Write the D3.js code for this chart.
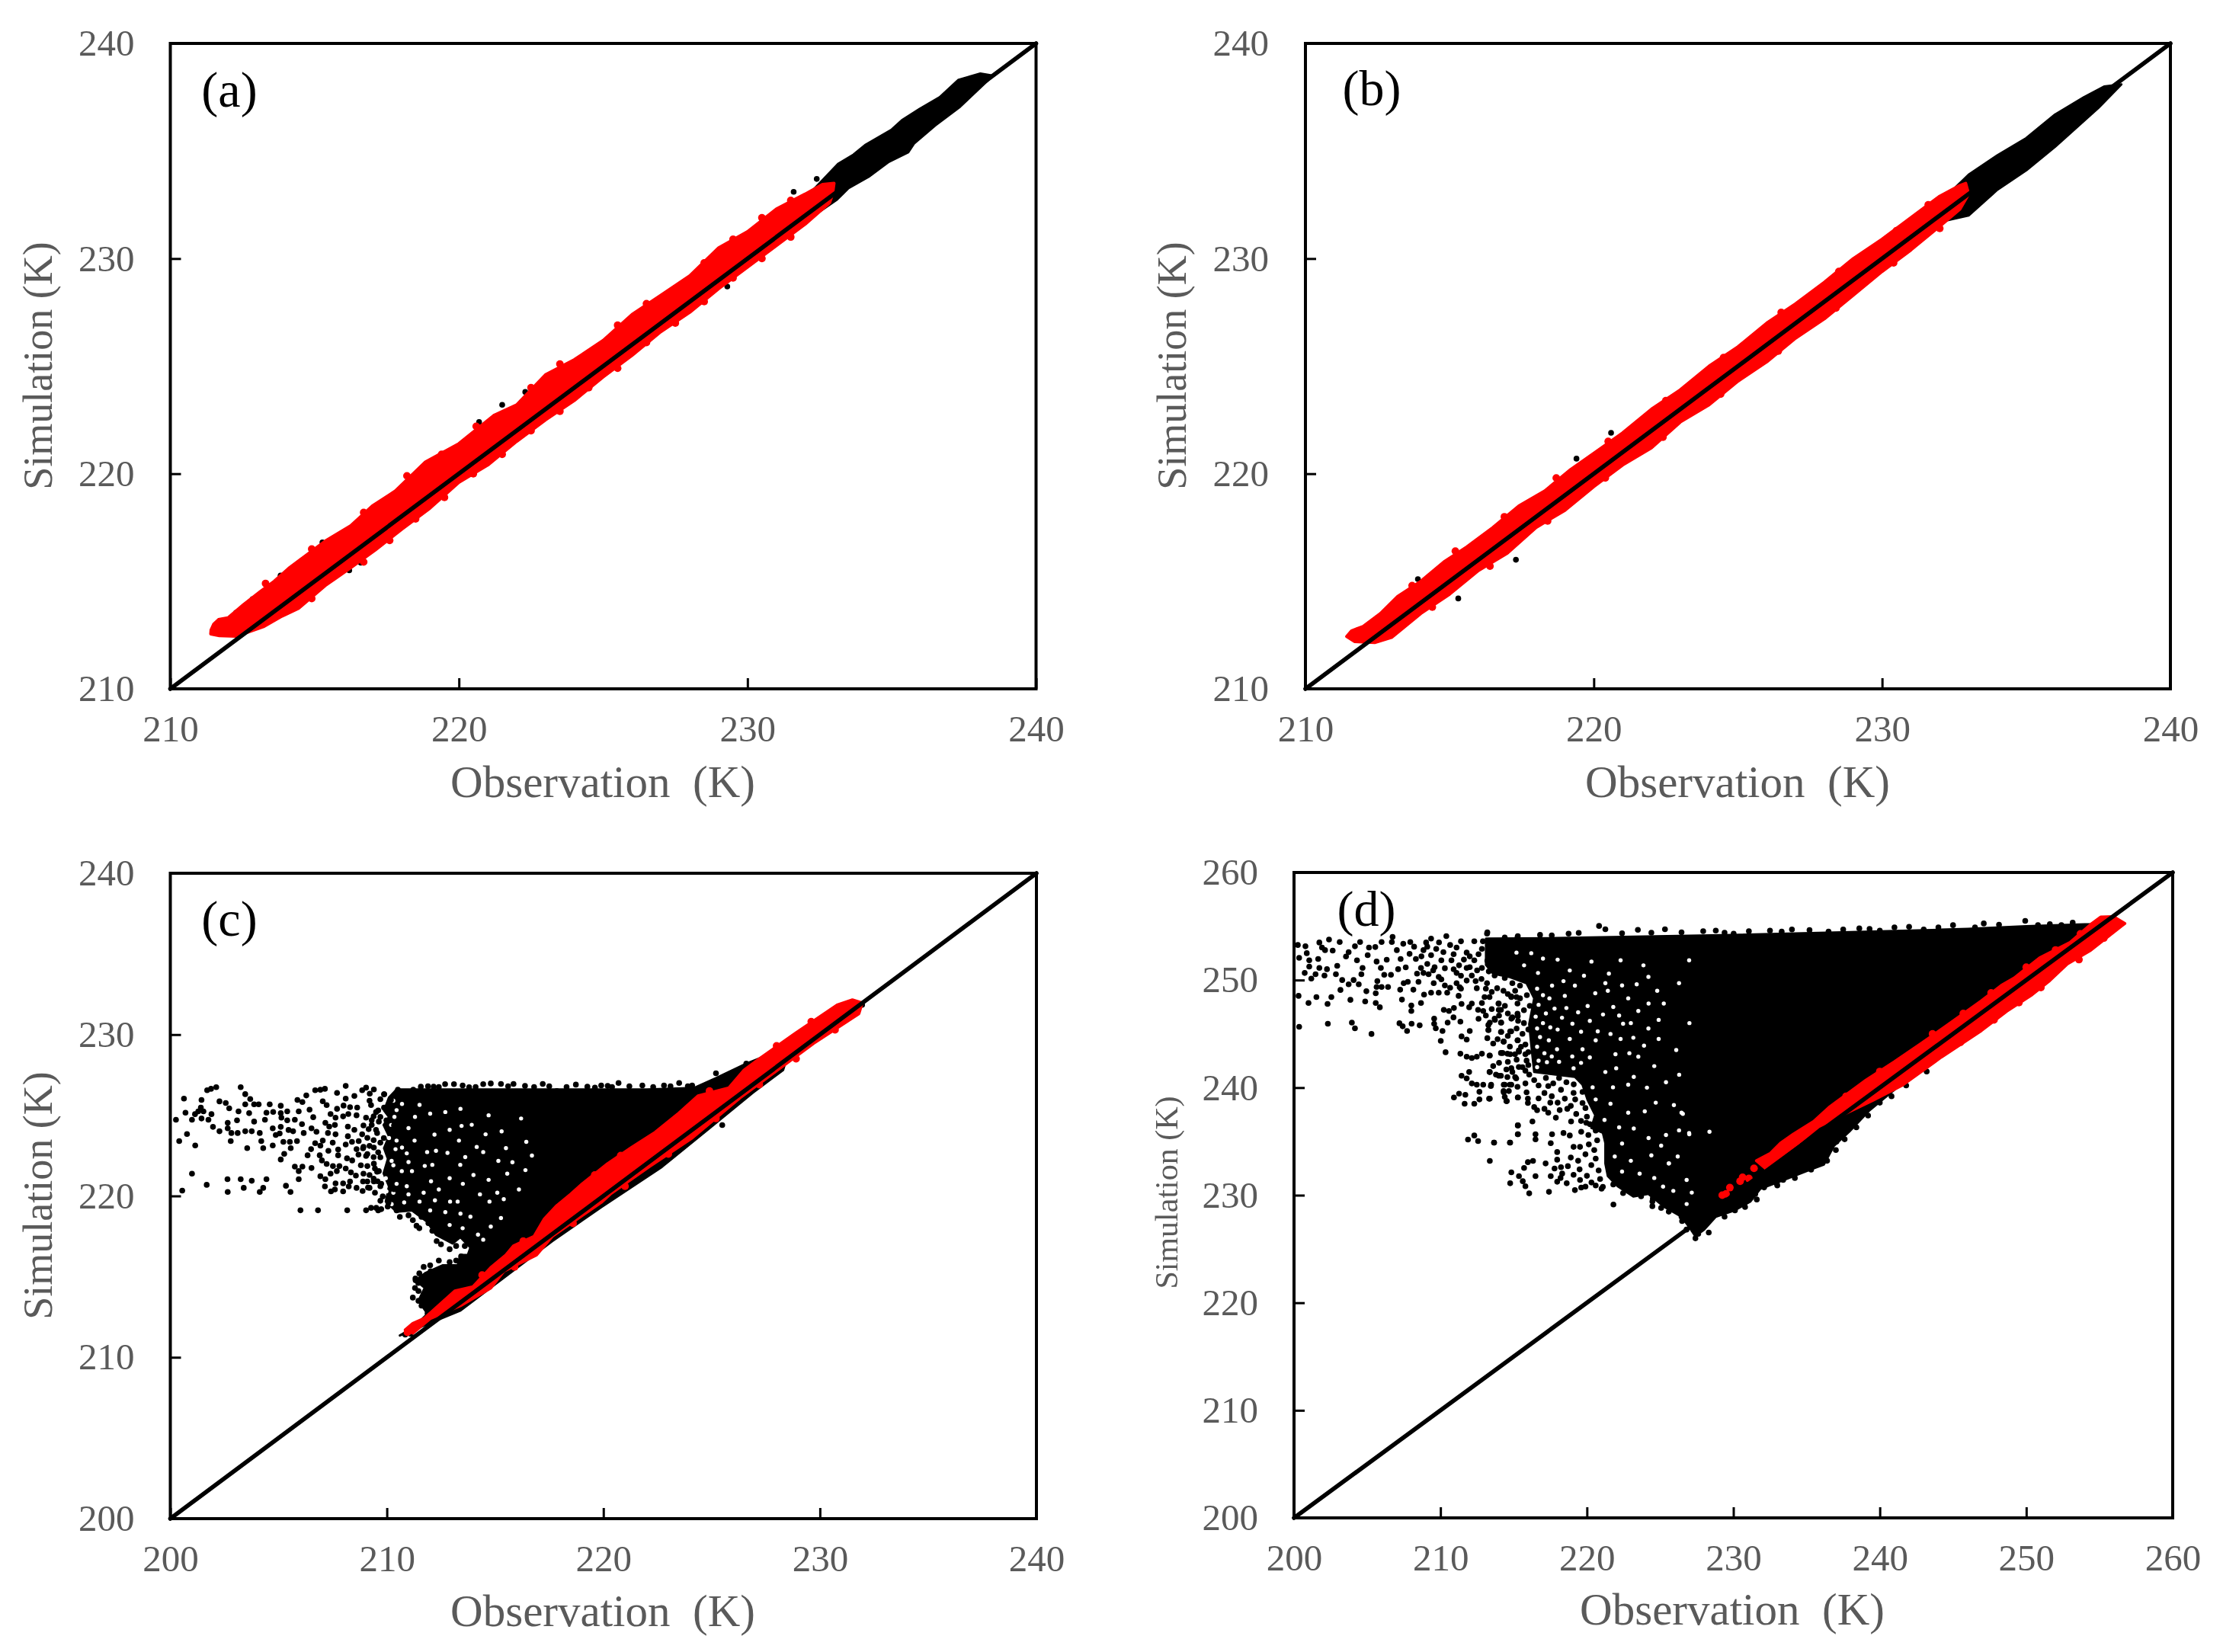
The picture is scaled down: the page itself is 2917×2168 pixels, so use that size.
<!DOCTYPE html>
<html><head><meta charset="utf-8">
<script src="https://cdn.jsdelivr.net/npm/d3@7/dist/d3.min.js"></script>
<style>html,body{margin:0;background:#fff}svg{display:block;filter:blur(0.7px)}</style>
</head><body><svg id="c" width="2917" height="2168"></svg>
<script>
const ticksAB=[210,220,230,240];
const ticksCX=[200,210,220,230,240];
const ticksCY=[200,210,220,230,240];
const ticksD=[200,210,220,230,240,250,260];
const xTitle="Observation  (K)", yTitle="Simulation (K)";
const labels=["(a)","(b)","(c)","(d)"];

const blackRingA=[[212.6,213.4],[214,215.1],[216,217],[218,219],[220,220.9],[222,222.8],[224,224.9],[226,226.8],[228,228.8],[230,230.8],[232,232.8],[233.14,234.4],[233.67,234.83],[234.1,235.3],[235,236],[235.35,236.43],[235.97,236.96],[236.66,237.5],[237.3,238.3],[238.07,238.6],[238.5,238.5],[237.37,237.06],[236.5,236.18],[235.78,235.36],[235.57,234.94],[234.9,234.5],[234.2,233.8],[233.5,233.27],[233.1,232.74],[231,230.8],[229,228.9],[226,225.8],[223,222.8],[220,219.9],[217.5,217.2],[215,214.9],[213,212.9]];
const redRingA=[[211.41,212.73],[211.5,213.0],[211.67,213.22],[212,213.3],[212.55,213.93],[213.1,214.5],[213.6,215],[214.1,215.6],[214.48,215.98],[215.37,216.87],[216.25,217.58],[217,218.5],[217.8,219.2],[218.84,220.55],[220,221.4],[221.2,222.7],[222,223.2],[223,224.6],[224,225.3],[225,226.2],[226,227.4],[227,228.3],[228,229.2],[229,230.5],[230,231.25],[231,232.3],[232,233],[232.6,233.45],[233,233.5],[232.95,233.0],[232.85,232.6],[232,231.6],[231,230.6],[230,229.6],[229,228.6],[228,227.5],[227,226.6],[226,225.5],[225,224.5],[224,223.4],[223,222.5],[222,221.5],[221,220.4],[220,219.6],[219,218.4],[218,217.4],[217.1,216.45],[216.25,215.63],[215.37,214.8],[214.44,213.74],[213.87,213.38],[213.25,212.9],[212.28,212.44],[211.7,212.47],[211.4,212.55]];
const redDotsA=[[213.3,214.9],[214.9,216.5],[216.7,218.2],[218.2,219.9],[219.4,220.9],[220.6,222.2],[222.5,224],[223.5,225.1],[225.5,226.9],[226.5,227.9],[228.5,229.8],[229.5,230.9],[230.5,231.9],[231.5,232.7],[214.9,214.2],[216.7,215.9],[217.6,216.9],[218.5,217.9],[219.5,218.9],[220.5,220],[221.5,220.9],[222.5,222],[223.5,222.9],[224.5,224],[225.5,224.9],[226.5,226.1],[227.5,227],[228.5,228],[229.5,229.1],[230.5,230],[231.5,231]];
const dotsA=[[212.28,213.54],[212.85,214.17],[213.38,214.8],[213.82,215.27],[215.27,216.81],[216.2,215.51],[216.6,215.86],[220.7,222.4],[221.5,223.2],[222.3,223.8],[231.6,233.1],[232.4,233.7],[229.3,228.7]];

const blackRingB=[[212.6,213],[214,214.7],[216,216.8],[218,218.8],[220,220.7],[222,222.7],[224,224.7],[226,226.7],[228,228.6],[230,230.6],[232,232.6],[233,233.9],[234,234.8],[235,235.6],[236,236.7],[237,237.5],[237.7,238],[238.3,238.1],[237.5,237],[237,236.4],[236,235.2],[235,234.1],[234,233.2],[233,232],[232,231.7],[230,229.6],[228,227.4],[226,225.4],[224,223.4],[222,221.4],[220,219.6],[218,217.7],[216,215.7],[214,213.7],[212.8,212.5]];
const redRingB=[[211.43,212.43],[211.6,212.7],[212,212.9],[212.6,213.5],[213.2,214.3],[214,215],[214.8,215.9],[215.6,216.6],[216.5,217.5],[217.4,218.5],[218.3,219.2],[219.2,220.2],[220,220.95],[221,221.9],[222,223],[223,223.9],[224,225],[225,225.9],[226,227],[227,227.9],[228,228.9],[229,230],[230,230.9],[231,231.9],[232,232.9],[232.7,233.4],[232.9,233.5],[233,233],[232.7,232.3],[232,231.5],[231,230.4],[230,229.4],[229,228.3],[228,227.2],[227,226.3],[226,225.2],[225,224.3],[224,223.2],[223,222.4],[222,221.2],[221,220.4],[220,219.4],[219,218.3],[218,217.5],[217,216.3],[216,215.5],[215,214.4],[214,213.5],[213,212.4],[212.4,212.15],[211.7,212.2]];
const redDotsB=[[213.7,214.8],[215.2,216.4],[216.9,218],[218.7,219.8],[220.5,221.5],[222.5,223.4],[224.5,225.4],[226.5,227.5],[228.5,229.4],[230.5,231.3],[231.6,232.5],[214.4,213.8],[216.4,215.7],[218.4,217.8],[220.4,219.8],[222.4,221.7],[224.4,223.7],[226.4,225.7],[228.4,227.7],[230.4,229.8],[232,231.4]];
const dotsB=[[212.5,213.3],[213.9,215.1],[219.4,220.7],[220.6,221.9],[217.3,216.0],[215.3,214.2]];

const blackRingC=[[210.45,226.6],[218,226.6],[222,226.6],[224.2,226.7],[225.2,227.3],[226.6,228.2],[227.9,228.9],[228.6,229.1],[228.3,227.8],[226.9,226.4],[224.9,224.2],[222.7,221.8],[219.9,219.3],[217.64,217.2],[213.4,212.9],[210.6,211.35],[211.2,211.8],[211.88,212.7],[211.46,213.5],[211.75,214.3],[211.33,214.77],[211.8,215.24],[212.57,215.7],[213.27,215.7],[213.39,216.34],[213.74,216.34],[213.86,216.8],[213.39,217.45],[213.04,217.05],[212.27,217.6],[211.86,218.4],[211.16,219.1],[210.45,219.02],[209.95,219.65],[210.1,220.6],[209.85,221.4],[210.05,222.3],[209.87,222.96],[210.1,223.7],[209.85,224.4],[210.1,224.9],[209.87,225.3],[210.1,226.1]];
const gapsC=[[210.45,223.43],[211.28,223.43],[213.33,223.43],[214.56,223.82],[213.45,224.34],[213.92,224.41],[212.80,222.67],[212.27,222.80],[211.86,222.72],[213.62,222.41],[214.15,223.04],[214.45,222.72],[213.39,221.93],[212.10,221.93],[211.75,221.86],[210.22,222.17],[210.92,222.64],[210.45,220.75],[212.04,220.91],[211.16,221.54],[213.27,219.65],[212.92,219.65],[212.22,219.73],[213.51,220.75],[214.21,217.60],[214.45,217.29],[213.86,218.71],[215.27,218.63],[214.74,219.65],[215.56,221.38],[216.44,223.35],[215.50,222.96],[215.15,222.17],[215.80,222.09],[210.22,219.49],[209.87,219.34],[211.51,219.65],[210.45,225.32],[211.51,225.64],[210.10,223.59],[210.92,220.60],[209.98,220.28],[210.69,221.54],[210.2,224.4],[211,224.2],[209.95,221.1],[210.4,222.9],[211.7,220.2],
[210.3,225.9],[210.7,225.7],[210.35,224.9],[211.3,224.9],[212,225.1],[212.7,225.2],[213.4,225.4],[210.3,221.9],[211,222.1],[210.7,223],[212.2,223.8],[212.9,224.1],[210.3,220.2],[211,220.1],[212.4,220.4],[212.9,221.1],[214,221.3],[214.7,221],[214.3,220.1],[215.1,220.2],[213.4,218.9],[212.9,218.2],[213.5,218],[212.7,219],[214.8,218.1],[215.4,219.8],[216.1,220.4],[216.4,221.6],[216.7,222.5],[215.3,224],[216.2,224.8],[214.7,225],[210.8,219.6],[212,219.1]];
const dotsC=[[201.70,226.55],[201.88,226.64],[202.12,226.74],[203.25,226.74],[203.46,226.31],[203.69,226.01],[200.63,226.03],[201.44,225.95],[202.27,225.86],[202.56,225.76],[202.72,225.43],[203.46,225.68],[203.87,225.68],[204.08,225.68],[204.59,225.68],[205.10,225.59],[201.41,225.48],[201.29,225.24],[201.53,225.24],[200.70,225.16],[201.14,225.07],[201.90,225.07],[203.15,225.24],[203.64,225.13],[204.44,225.16],[204.75,225.21],[205.10,225.13],[205.40,225.24],[205.93,225.24],[206.43,225.35],[200.26,224.72],[201.00,224.72],[201.44,224.80],[201.76,224.72],[203.08,224.69],[202.65,224.53],[203.87,224.61],[204.37,224.72],[205.13,224.85],[205.40,224.69],[205.75,224.72],[206.08,224.45],[206.60,224.88],[201.97,224.28],[202.65,224.19],[202.27,224.01],[202.82,223.90],[203.11,223.90],[203.46,224.01],[203.76,224.01],[204.13,223.90],[204.73,224.19],[205.10,224.28],[205.46,224.09],[205.67,224.01],[206.16,223.90],[206.52,224.19],[206.75,223.98],[200.77,223.84],[204.87,223.78],[205.05,223.87],[200.41,223.40],[202.79,223.40],[204.20,223.40],[201.15,223.13],[204.73,223.13],[205.22,223.35],[205.52,223.35],[205.85,223.40],[203.55,222.96],[204.29,222.96],[205.56,222.96],[205.26,222.61],[205.10,222.26],[206.34,222.52],[206.90,222.52],[201.00,221.38],[202.64,221.04],[203.25,221.04],[203.76,220.94],[204.44,221.04],[201.68,220.69],[200.55,220.33],[202.65,220.25],[203.39,220.50],[204.13,220.25],[204.29,220.50],[205.34,220.63],[205.55,220.25],[205.93,221.04],[205.75,221.82],[206.10,221.82],[205.93,221.54],[206.52,221.73],[206.01,219.11],[206.82,219.11],[208.17,219.11],[209.04,219.11],[209.27,219.26],[209.51,219.26],[209.74,219.18],[210.04,219.34],[210.45,219.10],[210.07,219.57],[210.45,219.81],[209.81,219.97],[210.33,220.41],[208.88,220.31],[209.13,220.52],[207.98,220.28],[207.42,220.28],[207.14,220.59],[207.63,220.78],[207.98,220.78],[208.24,220.59],[206.93,221.22],[207.16,221.04],[207.40,221.38],[207.69,221.54],[207.22,221.98],[207.51,221.85],[207.81,221.85],[208.10,221.70],[208.34,221.46],[208.57,221.26],[208.92,221.38],[209.10,221.85],[208.69,222.56],[209.04,222.48],[209.39,222.41],[207.75,222.88],[208.10,223.19],[208.39,223.35],[208.92,223.04],[209.39,223.46],[209.86,223.59],[207.75,222.52],[208.16,222.33],[209.63,221.54],[209.57,220.91],[209.39,221.07],[209.74,220.75],[207.04,223.43],[206.69,223.27],[206.93,223.12],[207.28,223.90],[207.63,223.82],[207.34,224.30],[207.16,224.53],[207.98,224.93],[207.63,224.85],[207.40,225.08],[208.22,225.08],[208.63,225.48],[209.27,225.63],[208.10,226.03],[207.70,226.39],[208.10,226.82],[209.04,226.71],[208.86,226.55],[209.21,226.34],[209.88,226.30],[210.45,226.42],[210.19,225.95],[207.04,225.87],[207.22,225.63],[206.69,226.55],[206.93,226.58],[207.14,226.64],[206.28,226.23],[205.87,225.95],[206.10,225.82],[210.21,225.48],[210.33,224.37],[209.98,224.69],[209.39,224.93],[209.04,224.85],[209.63,224.61],[208.92,224.37],[208.86,223.82],[209.16,224.14],[209.5,225.2],[208.6,225],[209.3,224.4],[209.55,223.9],[209.2,223.1],[209.6,222.7],[209.4,222],[209.55,221.5],[208.8,221.9],[209.2,221.3],[208.4,222.2],[208.9,222.95],[209.1,220.9],[209.45,220.2],[209.7,219.7]];
const dotsC2=[[210.51,226.58],[211.22,226.58],[211.57,226.77],[212.16,226.77],[212.69,226.93],[213.10,226.93],[213.80,226.74],[214.45,226.93],[214.80,226.97],[215.27,226.94],[215.85,226.94],[216.38,226.82],[217.20,226.94],[217.85,226.50],[218.73,226.90],[219.26,226.77],[219.61,226.71],[220.20,226.82],[220.7,227],[221.8,226.85],[222.8,226.85],[223.5,227],[224.1,226.85],[225.2,227.6],[226.6,228.2],[209.87,226.30],[210.16,225.95],[209.87,225.48],[210.10,225.48],[211.37,218.15],[211.92,218.31],[212.10,217.84],[211.33,214.77],[211.45,214.61],[211.32,214.88],[211.46,214.11],[211.46,213.5],[212.02,215.34],[211.88,212.73],[213.43,216.26],[210.85,211.41],[211.1,211.45],[225.49,224.39],[222.4,221.78],[216.8,216.56],[231.95,231.84],
[209.4,226.6],[209.7,226],[209.2,225.9],[209.6,225.3],[209.3,224.7],[209.7,224.9],[209.5,224.1],[209.1,223.6],[209.7,223.3],[209.4,223],[209.7,222.4],[209.1,222.6],[209.45,221.7],[209.2,220.5],[209.7,220.6],[209.4,220.9],[209.6,219.1],[210.6,218.7],[211,218.8],[211.2,218.5],[211.6,218.7],[211.5,218],[212.3,217.2],[212.5,217],[212.9,216.7],[213.2,216.9],[213.6,216.9],[213.9,216.2],[213.2,216],[212.9,215.9],[212.4,216],[212,215.7],[211.7,215.6],[212.1,215],[211.5,215.2],[211.3,214.3],[211.2,213.7],[211.7,213.9],[211.6,213.2],[208.5,226.2],[208.3,225.5],[208,225.6],[207.7,225.4],[207.6,224.4],[208.2,224.3],[208.5,224.1],[208.2,223.7],[207.5,223.3],[208.7,223.4],[207.3,222.8],[208.6,222.9],[206.5,222.9],[207,222.2],[208.9,220.9],[208.6,220.5],[207.6,220.4],[208.3,220.9],
[211.9,226.8],[212.4,226.75],[213.5,226.85],[214.1,226.75],[215.6,226.8],[216.8,226.75],[217.5,226.8],[218.3,226.75],[219.9,226.85],[220.4,226.75],[221.2,226.8],[222.3,226.75],[223.1,226.8],[223.9,226.8]];
const redRingC=[[210.85,211.7],[211.2,212.1],[211.74,212.42],[213.14,214.11],[213.98,214.37],[214.8,215.56],[215.5,216.34],[215.85,216.9],[216.8,217.5],[217.26,218.55],[217.85,219.4],[218.5,220.12],[219.03,220.75],[220.2,222],[221.3,223],[222.4,223.95],[223.5,225.15],[224.37,226.2],[225.8,226.7],[226.5,227.8],[227.2,228.5],[228.85,230.06],[230.8,231.84],[231.5,232.15],[231.95,231.96],[231.8,231.3],[229.7,229.45],[228,227.76],[226.3,226.07],[224.1,223.6],[222.1,221.8],[220.32,220.12],[219.9,219.6],[217.64,217.5],[216.91,216.34],[215.4,215.34],[214.8,214.3],[213.4,213.2],[212,212.4],[211.2,211.5]];
const redDotsC=[[210.95,211.55],[214.4,215.1],[216.3,217.2],[219.6,221.3],[220.8,222.5],[224.9,226.5],[228,229.3],[229.6,230.8],[215.9,215.6],[218.6,218.3],[221,220.6],[223,222.6],[225.2,224.8],[227.2,226.9],[228.9,228.5],[230.7,230.3]];

const blackRingD=[[213.11,253.85],[218,253.9],[224,254.05],[230,254.2],[238,254.45],[246,254.75],[250,255],[254.39,255.2],[255.08,255.5],[256,255.3],[256,254.8],[254.4,253],[252.8,251.7],[251.6,250.2],[250.4,248.9],[248.66,247.4],[246.93,245.6],[244.2,243.1],[241,239.8],[239.3,237.9],[237.91,235.9],[236.87,234.6],[236.18,232.84],[235.3,232.4],[233.4,231.4],[231.84,230.6],[231.15,229.4],[230.1,228.6],[228.8,228],[228,226.8],[227.4,226.2],[226.98,227.05],[226.46,228],[225.25,228.94],[224.2,230.12],[223.17,229.88],[222.1,230.83],[221.43,231.77],[221.26,232.95],[221.26,234.84],[221.09,235.8],[220.3,236.26],[220.57,237.44],[220.05,238.85],[219.7,240.27],[219.18,241],[216.4,241.45],[216.23,243.6],[216.06,245.9],[216.4,248.3],[215.88,249.7],[214.67,250.3],[213.6,250.6],[213.11,251.4]];
const gapsD=[[218.83,250.89],[217.62,249.48],[219.01,245.94],[220.74,245.23],[221.61,244.99],[219.09,241.80],[223.17,244.64],[221.95,243.10],[222.30,244.52],[220.05,247.59],[217.79,247.35],[217.44,248.30],[218.49,248.53],[215.71,251.37],[216.66,250.66],[215.19,252.55],[220.57,248.77],[222.82,248.30],[223.51,247.12],[224.21,247.82],[222.30,251.84],[220.31,251.72],[224.90,244.52],[221.61,238.50],[222.82,237.67],[223.95,237.79],[226.46,237.67],[225.94,238.38],[222.82,240.27],[221.26,241.45],[220.39,240.03],[225.59,232.95],[224.21,235.31],[225.07,234.60],[226.98,251.84],[225.25,247.82],[226.29,249.71],[223.86,251.37],[228.37,235.90],[226.98,235.78],[219.18,249.48],[221.26,249.71],[222.47,245.94],[217.96,243.57],[218.83,244.52],[217.27,242.37],[219.70,243.57],[223.51,242.87],[221.78,240.03],[221.43,249.0],[225.60,232.96],[226.55,237.56],[226.99,235.67],[226.29,236.03],[226.81,229.18],[227.16,230.24],[226.81,231.42],
[216.6,249.2],[217,248.6],[216.7,247.7],[217.2,246.9],[216.5,246.6],[217,246],[216.6,245.5],[217.5,245.6],[216.8,244.7],[217.4,244.4],[216.6,243.8],[217.1,243.2],[216.7,242.5],[217.6,242.9],[218.1,242.4],[216.6,241.9],[218,245.4],[218.3,246.5],[218.6,247.4],[219.4,247],[219.6,245.2],[219,242.9],[219.6,242.3],[220.2,242.8],[220.6,244.4],[220.2,246.2],[221.1,246.8],[221.8,247.5],[222.2,246.7],[223,246],[221.5,250.6],[219.8,250.4],[218,251.9],[217,252],[216.2,252.5],[218.4,249.9],[222.4,249.5],[223.4,249.6],[224.2,250.3],[224.8,249],[224.9,246.3],[224.2,245.5],[223.9,243.9],[222.9,243.2],[224.6,242],[223.2,241],[222,241.8],[220.6,238.9],[221.2,237],[222.2,236.3],[223.2,236.2],[222.4,234.8],[221.9,233.6],[223,233.2],[223.6,232],[222.4,232.2],[224.4,233.7],[224.6,231.6],[225.2,230.8],[225.9,230.4],[226.2,233.6],[225.4,235.6],[224.7,238.6],[224.1,240],[225.4,240.5],[226.3,241.2],[226.1,243.5],[227,246]];
const dotsD=[[202.39,253.77],[203.12,253.54],[201.73,253.49],[201.91,253.02],[202.12,252.78],[202.64,252.74],[200.26,253.26],[200.78,253.14],[200.87,252.50],[200.35,252.07],[201.04,251.84],[201.65,251.96],[203.73,252.59],[204.16,253.14],[204.51,253.54],[203.55,252.19],[204.30,251.84],[205.12,253.02],[205.55,253.07],[205.98,253.54],[205.03,252.31],[205.64,251.72],[206.33,251.89],[205.93,251.13],[206.73,254.01],[206.68,253.54],[207.46,253.37],[207.94,253.54],[207.02,252.78],[207.89,252.43],[207.28,251.96],[208.32,251.96],[207.11,251.01],[207.63,251.18],[201.04,251.25],[201.73,251.13],[202.25,251.01],[202.95,251.32],[200.73,250.66],[201.47,250.54],[202.08,250.42],[202.86,250.54],[201.18,250.14],[203.29,250.00],[204.07,250.00],[203.73,249.60],[204.42,249.60],[204.68,251.13],[204.60,250.54],[206.16,250.49],[206.62,250.49],[205.69,249.90],[205.64,249.36],[205.98,249.36],[206.42,249.36],[203.17,249.08],[204.94,248.96],[205.58,248.77],[200.31,248.53],[201.53,248.42],[202.55,248.42],[200.99,247.87],[202.29,247.78],[203.85,248.16],[204.86,248.01],[205.58,247.87],[205.86,247.47],[207.37,248.18],[207.25,249.10],[208.15,249.10],[207.77,249.83],[207.49,249.71],[208.50,249.83],[208.01,247.64],[208.01,247.12],[208.67,247.87],[208.88,248.65],[209.36,248.82],[209.88,248.82],[210.46,248.82],[210.66,249.29],[211.31,249.34],[211.24,248.53],[211.44,247.78],[210.23,247.23],[210.58,247.12],[210.92,247.40],[212.14,247.82],[211.96,247.47],[212.57,247.23],[212.92,247.12],[212.83,247.87],[213.01,248.42],[213.35,248.42],[213.96,247.82],[214.13,247.23],[214.83,248.49],[215.26,247.82],[215.43,248.30],[200.35,245.65],[202.31,245.94],[203.95,246.05],[204.16,245.51],[205.29,244.99],[207.20,245.98],[207.42,245.70],[207.72,245.27],[208.03,245.94],[208.58,245.79],[209.57,246.41],[209.57,245.94],[209.68,245.51],[210.14,245.27],[210.49,246.05],[210.89,246.53],[211.36,246.13],[212.00,245.27],[211.44,244.76],[211.79,244.47],[210.02,244.35],[210.35,243.29],[211.36,243.15],[211.79,242.87],[212.14,242.75],[212.48,242.87],[212.83,243.15],[213.35,242.98],[214.13,243.22],[214.57,243.15],[215.09,243.10],[215.35,243.46],[214.31,244.28],[214.74,243.81],[215.26,244.40],[213.27,245.82],[213.27,245.35],[213.70,246.41],[214.13,246.05],[214.91,246.53],[215.26,246.88],[214.13,245.18],[214.83,245.23],[211.44,241.10],[211.96,241.45],[211.79,240.86],[212.14,240.39],[212.48,240.27],[212.92,240.27],[213.44,240.15],[213.35,241.45],[213.79,241.21],[214.13,241.10],[214.57,240.98],[214.91,241.45],[215.35,241.92],[215.17,240.86],[212.66,239.61],[214.39,240.27],[214.74,240.27],[214.31,239.68],[215.26,240.08],[210.92,239.09],[211.27,239.44],[211.70,239.33],[211.65,238.50],[212.31,238.50],[212.66,238.90],[213.32,238.97],[214.53,238.74],[214.39,239.14],[215.29,239.09],[215.29,236.49],[215.29,235.67],[212.31,235.55],[211.88,235.17],[212.57,235.03],[213.66,234.89],[214.74,234.89],
[209.02,253.49],[209.36,253.85],[209.71,252.90],[210.40,254.08],[208.84,252.78],[209.36,252.31],[210.06,251.84],[210.66,253.26],[211.10,253.02],[210.75,251.84],[211.27,251.37],[211.79,252.55],[212.31,253.61],[212.83,252.90],[212.31,251.84],[211.79,251.13],[211.10,250.66],[212.14,250.42],[213.18,254.32],[213.87,253.49],[214.39,253.96],[215.26,253.96],[213.35,252.31],[213.87,252.78],[214.57,253.02],[213.70,251.37],[214.39,251.37],[215.09,252.07],[213.70,250.42],[214.39,250.19],[215.26,250.42],[212.83,251.13],[211.79,249.95],[212.48,249.24],[213.18,249.71],[213.87,249.24],[214.91,249.71],[215.43,249.48],[208.67,251.13],[209.19,250.54],[209.88,250.30],[209.54,249.71],[210.06,250.07],[208.84,250.66],[211.10,249.71]];
const dotsD2=[[213.98,247.82],[213.98,247.23],[215.19,248.42],[214.84,248.42],[215.28,246.64],[214.84,246.41],[213.72,246.29],[213.37,246.05],[214.15,246.05],[213.28,245.35],[214.15,245.18],[214.76,245.23],[216.40,245.11],[214.32,244.28],[215.28,244.40],[216.40,244.28],[213.37,242.98],[214.24,243.22],[214.76,243.10],[215.36,243.34],[215.80,243.10],[215.88,242.51],[214.84,241.80],[214.50,241.69],[213.37,241.45],[213.98,241.10],[216.06,241.21],[215.80,241.57],[215.10,240.98],[213.46,240.27],[214.32,240.27],[214.84,240.27],[215.80,240.39],[214.32,239.56],[214.67,239.68],[215.28,239.09],[215.88,239.56],[215.97,238.97],[213.37,238.97],[214.50,238.74],[215.97,238.57],[216.40,238.19],[217.10,238.03],[217.36,237.67],[217.88,237.20],[216.28,236.85],[215.28,236.49],[215.28,235.67],[216.49,235.67],[216.49,235.19],[217.62,235.67],[217.53,234.84],[213.66,234.89],[214.76,234.89],[217.36,240.15],[218.23,239.80],[219.09,239.51],[218.49,238.97],[219.70,238.57],[218.14,237.91],[218.66,238.03],[219.27,237.55],[218.92,236.85],[218.40,235.78],[218.83,235.55],[219.61,235.90],[219.96,236.73],[219.09,234.49],[219.53,234.49],[220.13,234.72],[217.97,234.01],[217.97,233.30],[217.18,232.95],[215.97,233.07],[216.32,233.19],[215.71,232.53],[213.37,233.19],[214.84,232.12],[215.36,231.77],[216.49,231.77],[217.53,231.77],[217.79,232.48],[218.23,232.60],[218.31,232.01],[219.09,231.89],[217.97,231.25],[218.62,231.11],[215.62,231.30],[215.80,230.83],[214.76,231.11],[219.53,231.42],[220.31,231.18],
[216.06,230.17],[217.41,230.31],[219.18,230.47],[219.61,230.71],[221.09,230.78],[221.81,229.13],[222.47,230.19],[224.47,229.41],[224.47,228.98],[225.07,228.82],[223.34,230.12],[225.59,228.47],[226.46,227.99],[227.41,225.99],[228.32,226.53],[224.21,230.47],[225.07,230.35],
[230.11,228.59],[232.10,230.72],[232.97,231.07],[235.31,232.37],[235.92,233.08],[237.65,235.91],[237.04,234.97],[236.44,234.02],[233.40,231.42],[231.50,230.13],[234.27,232.25],
[213.20,254.44],[215.28,254.08],[218.75,254.32],[219.44,254.39],[220.83,255.03],[221.26,254.72],[223.48,254.67],[225.33,254.72],[226.46,254.44],[227.94,254.55],[228.80,254.60],[230.02,254.32],[231.06,254.55],[232.5,254.6],[234,254.7],[236.5,254.5],[238.6,254.8],[240,254.6],[241,254.9],[242,254.95],[243,254.7],[244,254.9],[245,255.1],[246.5,254.9],[247.10,255.26],[248.14,255.14],[249.93,255.50],[250.8,255.1],[251.61,255.19],[252.4,255.1],[253.17,255.33]];
const dotsD3=[[208.2,253.1],[208.7,252.2],[209.1,253.1],[209.9,253.5],[210.2,252.6],[210.9,252.4],[211.4,253.6],[211.6,251.9],[212,252.2],[212.6,252.4],[212.9,253.6],[209.1,251.5],[209.6,251.2],[210.3,251.1],[210.9,251],[211.4,250.4],[212.5,250.9],[212.8,250.1],[209.5,250.9],[208.4,250.6],[212.4,249.9],[211.4,249.2],[210.3,249.5],[213.3,253.2],[213.6,252.2],[214,252.1],[214.7,252.4],[214.9,251.7],[215.5,253.3],[215.7,252.6],[214.1,250.9],[213.3,250.8],[213.2,251.8],[212,251.2],[213.1,249.2],[213.5,248.9],[214.3,249],[214.6,248.7],[215.1,249],[215.9,248.6],[216.1,247.6],[215.7,247.2],[215.3,246.2],[214.4,247.6],[214.6,246.9],[214,246.7],[213.5,247.3],[213.1,246.7],[212.6,246.4],[215.7,246],[216,245.4],[215.6,245],[215.2,245.5],[214.6,244.8],[213.9,244.5],[213.6,244.1],[213.2,244.6],[215.8,244],[215.5,243.8],[216,243.3],[215.2,242.6],[214.6,242.4],[214,242.3],[213.6,242],[216,242.1],[215.6,241.9],[216.4,240.7],[216.7,240.2],[217.2,240.9],[217.7,240.4],[218.1,240.9],[218.6,240.5],[219.1,240.3],[217.1,239.5],[217.6,239.2],[218,238.6],[216.7,239],[216.6,237.9],[217.5,238.6],[219.2,238.9],[218.9,238.3],[219.7,239.6],[219.9,238.1],[220,237.3],[219.6,236.9],[220.2,236.6],[220.6,236],[220.1,235.6],[220.7,235.1],[220.5,234.2],[219.9,233.8],[220.6,233.4],[220.3,232.8],[219.4,233.2],[218.9,233.5],[218.7,232.7],[219.5,232.4],[220,231.8],[220.8,232.3],[220.9,231.5],[220.6,230.9],[219.9,230.8],[218.2,231.6],[221,230.6],
[221.8,231],[222.6,230.6],[223,230.5],[223.7,229.9],[224.5,229.7],[225.6,229.2],[226,228.7],[226.5,227.6],[226.8,226.8],[227.6,226.4],[229.4,228],[230.8,228.9],[231.6,229.6],[233,230.9],[234.2,231.6],[236.4,233.2],[237,234.2],[237.6,235.2],[238.4,236.3],[239.2,237.4],[240,238.6],[240.8,239.2],[241.8,240.2],[243.2,241.5],
[216.8,254.2],[217.6,254.15],[222.4,254.35],[224.4,254.4],[229.4,254.4],[233.3,254.5],[235.2,254.65],[237.5,254.7],[239.3,254.75]];
const redRingD=[[231.58,233.2],[232.54,233.9],[233.23,234.85],[234.1,235.67],[235.49,236.86],[236.53,238.15],[239.07,240.7],[241,242.4],[242.83,244.1],[244.5,245.7],[246.93,248.06],[248.3,249.5],[249.18,250.19],[250.92,252.07],[253,253.5],[254.39,255.15],[255.08,255.85],[255.95,255.9],[256.73,255.26],[256.47,255],[254.4,252.78],[252.8,251.5],[251.6,249.95],[250.4,248.65],[248.66,247.1],[246.93,245.3],[244.2,242.84],[241.5,240.2],[239.5,238.8],[237.2,237.3],[235.83,236.38],[234.44,234.85],[233.06,233.43],[232.19,232.5]];
const redDotsD=[[229.24,230],[229.5,230.13],[229.76,230.7],[230.46,231.3],[230.63,231.66],[231.06,231.55],[231.41,232.5],[237.7,239.2],[240,241.5],[243.6,245],[245.7,246.9],[247.6,248.8],[250,251.2],[252,252.8],[253.7,254.3],[240.5,240.7],[242.8,242.8],[245.5,244.2],[247.8,246.3],[249.5,247.9],[251,249.3],[253.6,251.9],[255.3,253.9]];

const panels=[
 {lab:labels[0],box:[223.5,1359.5,57,904],xd:[210,240],yd:[210,240],xt:ticksAB,yt:ticksAB,ring:blackRingA,gaps:[],dots:dotsA,red:redRingA,redDots:redDotsA,pad:47,yFs:54,yX:56,yY:480,tX:791,tY:1032,lX:301,lY:125},
 {lab:labels[1],box:[1713,2848,57,904],xd:[210,240],yd:[210,240],xt:ticksAB,yt:ticksAB,ring:blackRingB,gaps:[],dots:dotsB,red:redRingB,redDots:redDotsB,pad:48,yFs:54,yX:1544,yY:480,tX:2280,tY:1032,lX:1800,lY:123},
 {lab:labels[2],box:[223.5,1360,1146,1993],xd:[200,240],yd:[200,240],xt:ticksCX,yt:ticksCY,ring:blackRingC,gaps:gapsC,dots:dotsC.concat(dotsC2),red:redRingC,redDots:redDotsC,pad:47,yFs:54,yX:56,yY:1569,tX:791,tY:2120,lX:301,lY:1213},
 {lab:labels[3],box:[1698,2851,1145,1992],xd:[200,260],yd:[200,260],xt:ticksD,yt:ticksD,ring:blackRingD,gaps:gapsD,dots:dotsD.concat(dotsD2,dotsD3),red:redRingD,redDots:redDotsD,pad:47,yFs:42,yX:1535,yY:1565,tX:2273,tY:2118,lX:1793,lY:1200}
];

const svg=d3.select("#c");
const SERIF="'Liberation Serif','Times New Roman',serif", GREY="#5a5a5a";
svg.append("rect").attr("width",2917).attr("height",2168).attr("fill","#fff");
panels.forEach(p=>{
  const [l,r,t,b]=p.box;
  const x=d3.scaleLinear().domain(p.xd).range([l,r]);
  const y=d3.scaleLinear().domain(p.yd).range([b,t]);
  const g=svg.append("g");
  const ring=d3.line().x(d=>x(d[0])).y(d=>y(d[1])).curve(d3.curveLinearClosed);
  g.append("path").attr("d",ring(p.ring)).attr("fill","#000").attr("stroke","#000").attr("stroke-width",3).attr("stroke-linejoin","round");
  g.append("g").selectAll("circle").data(p.gaps).join("circle").attr("cx",d=>x(d[0])).attr("cy",d=>y(d[1])).attr("r",2.7).attr("fill","#fff");
  g.append("g").selectAll("circle").data(p.dots).join("circle").attr("cx",d=>x(d[0])).attr("cy",d=>y(d[1])).attr("r",3.8).attr("fill","#000");
  g.append("path").attr("d",ring(p.red)).attr("fill","#f00").attr("stroke","#f00").attr("stroke-width",4).attr("stroke-linejoin","round");
  g.append("g").selectAll("circle").data(p.redDots).join("circle").attr("cx",d=>x(d[0])).attr("cy",d=>y(d[1])).attr("r",5).attr("fill","#f00");
  g.append("rect").attr("x",l).attr("y",t).attr("width",r-l).attr("height",b-t).attr("fill","none").attr("stroke","#000").attr("stroke-width",4);
  g.append("line").attr("x1",x(p.xd[0])).attr("y1",y(p.yd[0])).attr("x2",x(p.xd[1])).attr("y2",y(p.yd[1])).attr("stroke","#000").attr("stroke-width",5.6).attr("stroke-linecap","round");
  const ax=g.append("g").attr("transform",`translate(0,${b})`).call(d3.axisBottom(x).tickValues(p.xt).tickFormat(d3.format("d")).tickSize(-14).tickPadding(34));
  const ay=g.append("g").attr("transform",`translate(${l},0)`).call(d3.axisLeft(y).tickValues(p.yt).tickFormat(d3.format("d")).tickSize(-14).tickPadding(p.pad));
  [ax,ay].forEach(a=>{
    a.select(".domain").remove();
    a.selectAll("line").attr("stroke","#000").attr("stroke-width",3);
    a.selectAll("text").attr("font-family",SERIF).attr("font-size",49).attr("fill",GREY);
  });
  g.append("text").attr("x",p.tX).attr("y",p.tY).attr("text-anchor","middle").attr("dominant-baseline","middle").attr("font-family",SERIF).attr("font-size",59).attr("fill",GREY).style("white-space","pre").text(xTitle);
  g.append("text").attr("transform",`translate(${p.yX},${p.yY}) rotate(-90)`).attr("text-anchor","middle").attr("dominant-baseline","middle").attr("font-family",SERIF).attr("font-size",p.yFs).attr("fill",GREY).text(yTitle);
  g.append("text").attr("x",p.lX).attr("y",p.lY).attr("text-anchor","middle").attr("dominant-baseline","middle").attr("font-family",SERIF).attr("font-size",66).attr("fill","#000").text(p.lab);
});
</script></body></html>
